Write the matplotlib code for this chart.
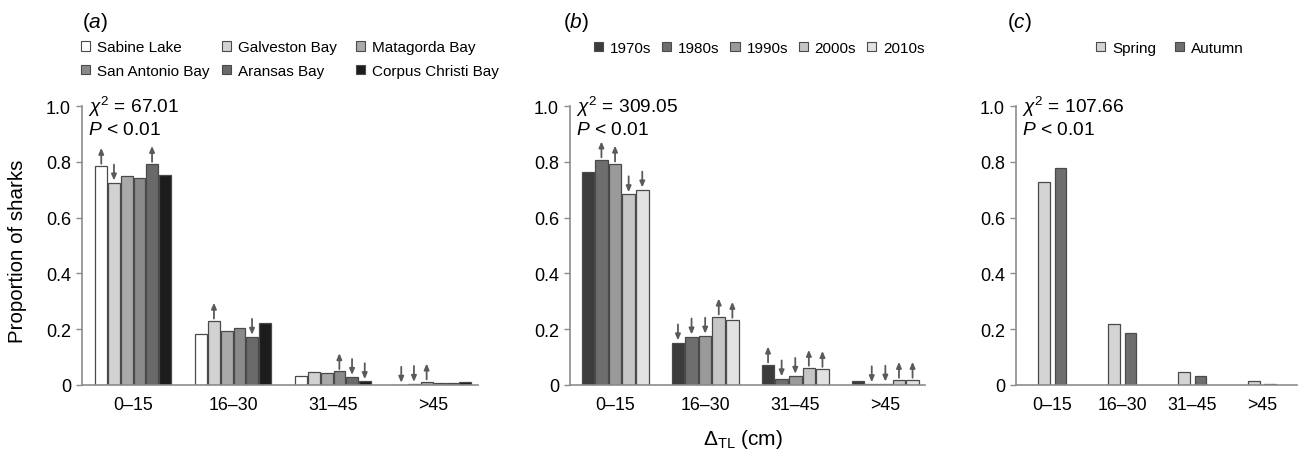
import matplotlib.pyplot as plt
from matplotlib.patches import Patch
from matplotlib.ticker import FuncFormatter

plt.rcParams['font.family'] = ['Liberation Sans', 'DejaVu Sans']
plt.rcParams['mathtext.fontset'] = 'custom'
plt.rcParams['mathtext.rm'] = 'Liberation Sans'
plt.rcParams['mathtext.it'] = 'Liberation Sans:italic'

groups = ["0–15", "16–30", "31–45", ">45"]

# (a) bays
bays = ["Sabine Lake", "Galveston Bay", "Matagorda Bay",
        "San Antonio Bay", "Aransas Bay", "Corpus Christi Bay"]
sabine = [0.785, 0.184, 0.031, 0.0]
galveston = [0.725, 0.230, 0.046, 0.003]
matagorda = [0.750, 0.194, 0.043, 0.012]
san_antonio = [0.741, 0.204, 0.049, 0.006]
aransas = [0.792, 0.172, 0.028, 0.007]
corpus = [0.753, 0.222, 0.013, 0.011]
# 1 = up arrow, -1 = down arrow, 0 = none
sabine_arr = [1, 0, 0, -1]
galveston_arr = [-1, 1, 0, -1]
matagorda_arr = [0, 0, 0, 1]
san_antonio_arr = [0, 0, 1, 0]
aransas_arr = [1, -1, -1, 0]
corpus_arr = [0, 0, -1, 0]

# (b) decades
decades = ["1970s", "1980s", "1990s", "2000s", "2010s"]
d1970 = [0.763, 0.152, 0.073, 0.013]
d1980 = [0.808, 0.173, 0.023, 0.002]
d1990 = [0.793, 0.176, 0.032, 0.004]
d2000 = [0.683, 0.245, 0.061, 0.018]
d2010 = [0.700, 0.233, 0.057, 0.018]
d1970_arr = [0, -1, 1, 0]
d1980_arr = [1, -1, -1, -1]
d1990_arr = [1, -1, -1, -1]
d2000_arr = [-1, 1, 1, 1]
d2010_arr = [-1, 1, 1, 1]

# (c) seasons
seasons = ["Spring", "Autumn"]
spring = [0.727, 0.217, 0.045, 0.014]
autumn = [0.776, 0.187, 0.033, 0.004]

edge = "#4a4a4a"
axis_col = "#8c8c8c"
arrow_col = "#5a5a5a"


def draw_panel(ax, series, colors, arrows, step, width, xlim, chi):
    n = len(series)
    for i, vals in enumerate(series):
        off = (i - (n - 1) / 2) * step
        xs = [g + off for g in range(len(groups))]
        ax.bar(xs, vals, width=width, color=colors[i], edgecolor=edge, linewidth=0.9, zorder=2)
        if arrows is None:
            continue
        for x, v, a in zip(xs, vals, arrows[i]):
            if a == 0:
                continue
            lo, hi = v + 0.008, v + 0.065
            start, end = (lo, hi) if a > 0 else (hi, lo)
            ax.annotate("", xy=(x, end), xytext=(x, start),
                        arrowprops=dict(arrowstyle="-|>,head_length=0.35,head_width=0.15",
                                        color=arrow_col, lw=1.3, shrinkA=0, shrinkB=0))
    ax.set_xlim(*xlim)
    ax.set_ylim(0, 1.0)
    ax.set_xticks(range(len(groups)))
    ax.set_xticklabels(groups, fontsize=12.8)
    ax.set_yticks([0, 0.2, 0.4, 0.6, 0.8, 1.0])
    ax.yaxis.set_major_formatter(FuncFormatter(lambda v, p: "0" if v == 0 else f"{v:.1f}"))
    ax.tick_params(axis="y", labelsize=13, length=4, width=1, color=axis_col, pad=4)
    ax.tick_params(axis="x", length=0, pad=8)
    for s in ["top", "right"]:
        ax.spines[s].set_visible(False)
    for s in ["left", "bottom"]:
        ax.spines[s].set_color(axis_col)
        ax.spines[s].set_linewidth(1.2)
    ax.annotate(r"$\chi^2$ = " + chi, xy=(0, 1.0), xycoords="axes fraction",
                xytext=(4, 0), textcoords="offset points", va="center", ha="left",
                fontsize=13.8, annotation_clip=False)
    ax.annotate(r"$P$ < 0.01", xy=(0, 1.0), xycoords="axes fraction",
                xytext=(4, -17), textcoords="offset points", va="center", ha="left",
                fontsize=13.8, annotation_clip=False)


W, H = 1299, 452
fig = plt.figure(figsize=(W / 100, H / 100), dpi=100)

bot = 1 - 386 / H
top = 1 - 107 / H
ax_a = fig.add_axes([82 / W, bot, (478 - 82) / W, top - bot])
ax_b = fig.add_axes([570 / W, bot, (925 - 570) / W, top - bot])
ax_c = fig.add_axes([1016 / W, bot, (1297 - 1016) / W, top - bot])

col_a = ["#ffffff", "#d2d2d2", "#a9a9a9", "#8a8a8a", "#696969", "#1c1c1c"]
col_b = ["#3c3c3c", "#6e6e6e", "#9a9a9a", "#c6c6c6", "#e2e2e2"]
col_c = ["#d4d4d4", "#6e6e6e"]

draw_panel(ax_a, [sabine, galveston, matagorda, san_antonio, aransas, corpus], col_a,
           [sabine_arr, galveston_arr, matagorda_arr, san_antonio_arr, aransas_arr, corpus_arr],
           0.127, 0.117, (-0.51, 3.45), "67.01")
draw_panel(ax_b, [d1970, d1980, d1990, d2000, d2010], col_b,
           [d1970_arr, d1980_arr, d1990_arr, d2000_arr, d2010_arr],
           0.151, 0.14, (-0.5, 3.44), "309.05")
draw_panel(ax_c, [spring, autumn], col_c, None, 0.235, 0.165, (-0.52, 3.5), "107.66")

fig.text(18 / W, 1 - 251 / H, "Proportion of sharks", fontsize=14.8, rotation=90,
         ha="center", va="center")

# panel labels
fig.text(82 / W, 1 - 23 / H, r"($\mathit{a}$)", fontsize=15, va="center")
fig.text(563 / W, 1 - 23 / H, r"($\mathit{b}$)", fontsize=15, va="center")
fig.text(1007 / W, 1 - 23 / H, r"($\mathit{c}$)", fontsize=15, va="center")


def patch(c):
    return Patch(facecolor=c, edgecolor=edge, linewidth=0.8)


leg_kw = dict(loc="center left", frameon=False, handlelength=0.6, handleheight=0.6,
              handletextpad=0.45, fontsize=11, borderaxespad=0, borderpad=0)

# legend (a): three columns placed separately
col_x = [81, 222, 356]
for j in range(3):
    hs = [patch(col_a[j]), patch(col_a[j + 3])]
    ls = [bays[j], bays[j + 3]]
    fig.legend(hs, ls, bbox_to_anchor=(col_x[j] / W, 1 - 60 / H), labelspacing=0.65, **leg_kw)

fig.legend([patch(c) for c in col_b], decades, ncol=5, columnspacing=0.7,
           bbox_to_anchor=(594 / W, 1 - 49 / H), **leg_kw)
fig.legend([patch(c) for c in col_c], seasons, ncol=2, columnspacing=1.25,
           bbox_to_anchor=(1096 / W, 1 - 49 / H), **leg_kw)

fig.text(743 / W, 1 - 440 / H, r"$\Delta_{\mathrm{TL}}$ (cm)", fontsize=15, ha="center", va="center")

fig.savefig("out.png", dpi=100)
